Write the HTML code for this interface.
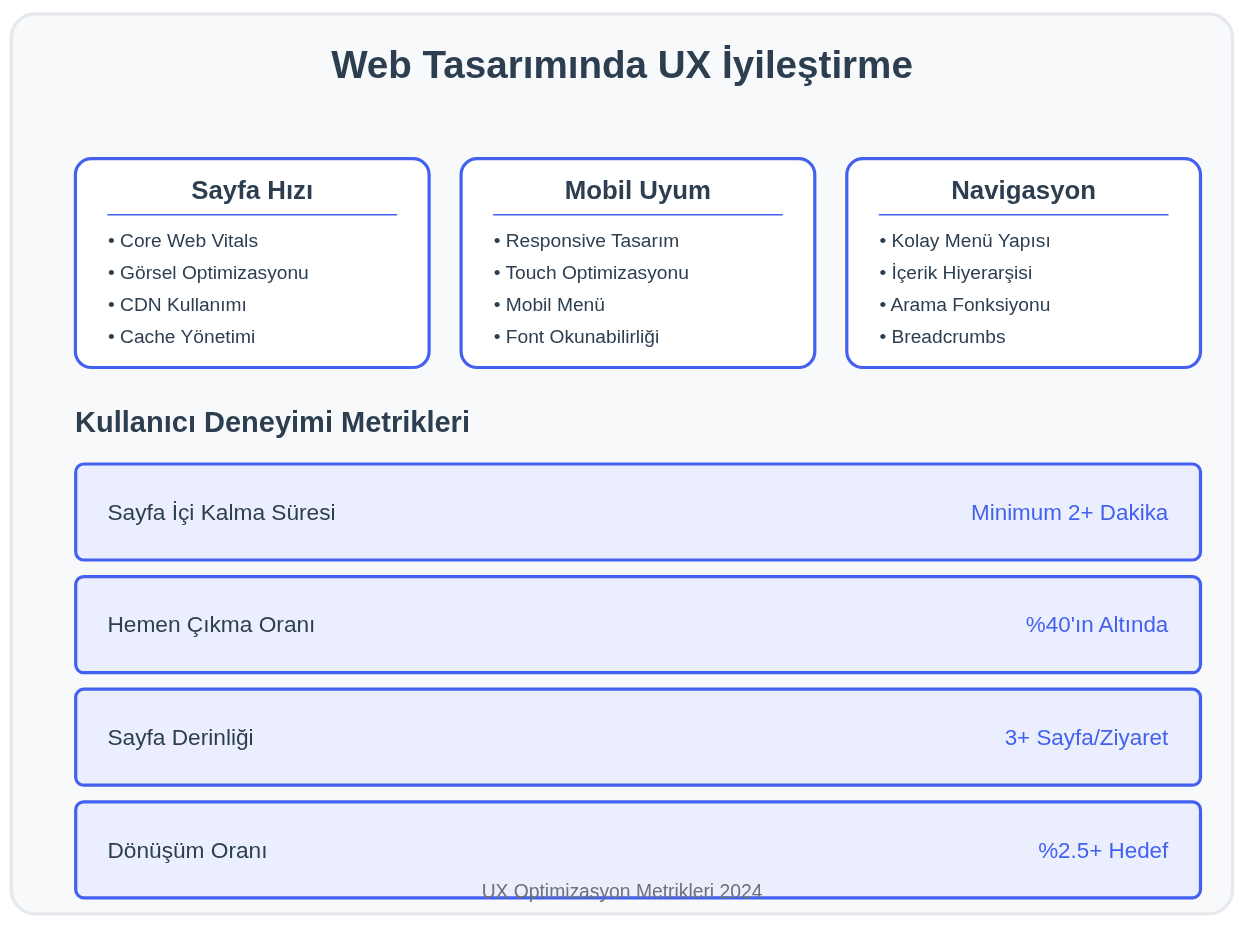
<!DOCTYPE html>
<html>
<head>
<meta charset="utf-8">
<style>
html,body{margin:0;padding:0;background:#ffffff;width:1254px;height:934px;overflow:hidden;}
svg{display:block;will-change:transform;}
text{font-family:"Liberation Sans",sans-serif;}
.t{fill:#2c3e50;}
.b{font-weight:bold;}
.li{font-size:19.2px;fill:#2c3e50;}
.rl{font-size:22.7px;fill:#2c3e50;}
.rv{font-size:22.4px;fill:#4361ee;text-anchor:end;}
.ct{font-size:25.8px;font-weight:bold;fill:#2c3e50;text-anchor:middle;}
.card{fill:#ffffff;stroke:#4361ee;stroke-width:3.2;}
.row{fill:#ebeffd;stroke:#4361ee;stroke-width:3.2;}
.div{stroke:#4361ee;stroke-width:1.6;}
</style>
</head>
<body>
<svg width="1254" height="934" viewBox="0 0 1254 934">
  <rect x="11.3" y="13.8" width="1221.2" height="900" rx="24" ry="24" fill="#f8f9fb" stroke="#e5e8ec" stroke-width="3.2"/>
  <text x="622" y="77.8" class="t b" font-size="38.6" text-anchor="middle">Web Tasarımında UX İyileştirme</text>

  <!-- cards -->
  <rect class="card" x="75.4" y="158.6" width="353.7" height="208.9" rx="16" ry="16"/>
  <rect class="card" x="461.1" y="158.6" width="353.7" height="208.9" rx="16" ry="16"/>
  <rect class="card" x="846.8" y="158.6" width="353.7" height="208.9" rx="16" ry="16"/>

  <text class="ct" x="252.25" y="199.1">Sayfa Hızı</text>
  <text class="ct" x="637.95" y="199.1">Mobil Uyum</text>
  <text class="ct" x="1023.65" y="199.1">Navigasyon</text>

  <line class="div" x1="107.4" y1="214.8" x2="397.1" y2="214.8"/>
  <line class="div" x1="493.1" y1="214.8" x2="782.8" y2="214.8"/>
  <line class="div" x1="878.8" y1="214.8" x2="1168.5" y2="214.8"/>

  <text class="li" x="108" y="247">• Core Web Vitals</text>
  <text class="li" x="108" y="279">• Görsel Optimizasyonu</text>
  <text class="li" x="108" y="311">• CDN Kullanımı</text>
  <text class="li" x="108" y="343">• Cache Yönetimi</text>

  <text class="li" x="493.7" y="247">• Responsive Tasarım</text>
  <text class="li" x="493.7" y="279">• Touch Optimizasyonu</text>
  <text class="li" x="493.7" y="311">• Mobil Menü</text>
  <text class="li" x="493.7" y="343">• Font Okunabilirliği</text>

  <text class="li" x="879.4" y="247">• Kolay Menü Yapısı</text>
  <text class="li" x="879.4" y="279">• İçerik Hiyerarşisi</text>
  <text class="li" x="879.4" y="311">• Arama Fonksiyonu</text>
  <text class="li" x="879.4" y="343">• Breadcrumbs</text>

  <text class="t b" x="75.1" y="431.8" font-size="29">Kullanıcı Deneyimi Metrikleri</text>

  <!-- rows -->
  <rect class="row" x="75.7" y="464" width="1124.8" height="96" rx="8" ry="8"/>
  <rect class="row" x="75.7" y="576.6" width="1124.8" height="96" rx="8" ry="8"/>
  <rect class="row" x="75.7" y="689.2" width="1124.8" height="96" rx="8" ry="8"/>
  <rect class="row" x="75.7" y="801.8" width="1124.8" height="96" rx="8" ry="8"/>

  <text class="rl" x="107.4" y="519.7">Sayfa İçi Kalma Süresi</text>
  <text class="rv" x="1168.3" y="519.7">Minimum 2+ Dakika</text>
  <text class="rl" x="107.4" y="632.3">Hemen Çıkma Oranı</text>
  <text class="rv" x="1168.3" y="632.3">%40'ın Altında</text>
  <text class="rl" x="107.4" y="744.9">Sayfa Derinliği</text>
  <text class="rv" x="1168.3" y="744.9">3+ Sayfa/Ziyaret</text>
  <text class="rl" x="107.4" y="857.5">Dönüşüm Oranı</text>
  <text class="rv" x="1168.3" y="857.5">%2.5+ Hedef</text>

  <text x="622" y="898.2" font-size="19.3" fill="#6b7178" text-anchor="middle">UX Optimizasyon Metrikleri 2024</text>
</svg>
</body>
</html>
